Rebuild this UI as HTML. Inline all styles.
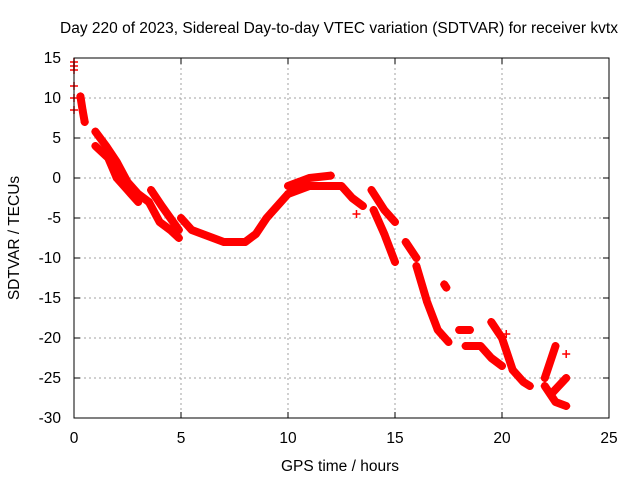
<!DOCTYPE html>
<html><head><meta charset="utf-8"><style>body{margin:0;background:#fff}svg{display:block;font-family:"Liberation Sans",sans-serif}</style></head>
<body>
<svg id="c" width="640" height="480">
<rect width="640" height="480" fill="#fff"/>
<text x="339" y="33" font-size="15.5" text-anchor="middle">Day 220 of 2023, Sidereal Day-to-day VTEC variation (SDTVAR) for receiver kvtx</text>
<text x="340" y="471" font-size="15.5" text-anchor="middle">GPS time / hours</text>
<text transform="translate(19,238) rotate(-90)" font-size="15.5" text-anchor="middle">SDTVAR / TECUs</text>
<g id="grid"></g><g id="ser"></g>
<rect x="74" y="58" width="535" height="360" fill="none" stroke="#000"/>
</svg>
<script>
const xTicks=[0,5,10,15,20,25];
const yTicks=[15,10,5,0,-5,-10,-15,-20,-25,-30];
const segments=[
[[0.3,10.2],[0.4,8.5],[0.5,7]],
[[1.0,5.8],[1.5,4],[2,2],[2.5,-0.5],[3,-2],[3.5,-3]],
[[1.0,4],[1.6,2.5],[2.0,0],[2.5,-1.5],[3,-3]],
[[3.5,-3],[4,-5.5],[4.5,-6.5],[4.9,-7.5]],
[[3.6,-1.5],[4.1,-3.5],[4.5,-5],[4.9,-6.5]],
[[5,-5],[5.5,-6.5],[6,-7],[6.5,-7.5],[7,-8],[8,-8],[8.5,-7],[9,-5],[9.5,-3.5],[10,-2]],
[[10,-1],[11,0],[12,0.3]],
[[10,-2],[11,-1],[12,-1],[12.5,-1],[13,-2.5],[13.5,-3.5]],
[[13.9,-1.5],[14.5,-4],[15,-5.5]],
[[14.0,-4],[14.5,-7],[15,-10.5]],
[[15.5,-8],[16,-10]],
[[16,-11],[16.5,-15.5],[17,-19],[17.5,-20.5]],
[[17.3,-13.3],[17.4,-13.7]],
[[18,-19],[18.5,-19]],
[[18.3,-21],[19,-21],[19.5,-22.5],[20,-23.5]],
[[19.5,-18],[20,-20],[20.5,-24]],
[[20.5,-24],[21,-25.5],[21.3,-26]],
[[22,-25],[22.5,-21]],
[[22,-26],[22.5,-28],[23,-28.5]],
[[22.3,-27],[23,-25]]
];
const scatter=[[0,14.5],[0,14],[0,13.5],[0,11.5],[0,10],[0,8.5],[13.2,-4.5],[20.2,-19.5],[23,-22]];
const X=t=>74+t*535/25, Y=v=>58+(15-v)*360/45;
const NS="http://www.w3.org/2000/svg";
const g=document.getElementById('grid'), s=document.getElementById('ser');
function mk(p,tag,a){const e=document.createElementNS(NS,tag);for(const k in a)e.setAttribute(k,a[k]);p.appendChild(e);return e;}
xTicks.forEach(t=>{const x=X(t);
 if(t>0&&t<25){const l=mk(g,'line',{x1:x,x2:x,y1:58,y2:418,stroke:'#a0a0a0','stroke-dasharray':'2,3'});}
 mk(g,'line',{x1:x,x2:x,y1:418,y2:412,stroke:'#000'});mk(g,'line',{x1:x,x2:x,y1:58,y2:64,stroke:'#000'});
 const tx=mk(g,'text',{x:x,y:443,'font-size':15.5,'text-anchor':'middle'});tx.textContent=t;
 });
yTicks.forEach(v=>{const y=Y(v);
 if(v<15&&v>-30){const l=mk(g,'line',{x1:74,x2:609,y1:y,y2:y,stroke:'#a0a0a0','stroke-dasharray':'2,3'});}
 mk(g,'line',{x1:74,x2:80,y1:y,y2:y,stroke:'#000'});mk(g,'line',{x1:609,x2:603,y1:y,y2:y,stroke:'#000'});
 const tx=mk(g,'text',{x:61,y:y+5,'font-size':15.5,'text-anchor':'end'});tx.textContent=v;
 });
function plus(x,y){mk(s,'path',{d:`M${x-4},${y}h8M${x},${y-4}v8`,stroke:'#f00','stroke-width':1.5});}
segments.forEach(seg=>{const pts=seg.map(p=>X(p[0])+','+Y(p[1])).join(' ');
 const pl=mk(s,'polyline',{points:pts,fill:'none',stroke:'#f00','stroke-width':8,'stroke-linejoin':'round','stroke-linecap':'round'});
 
 seg.forEach(p=>plus(X(p[0]),Y(p[1])));});
scatter.forEach(p=>plus(X(p[0]),Y(p[1])));
</script>
</body></html>
